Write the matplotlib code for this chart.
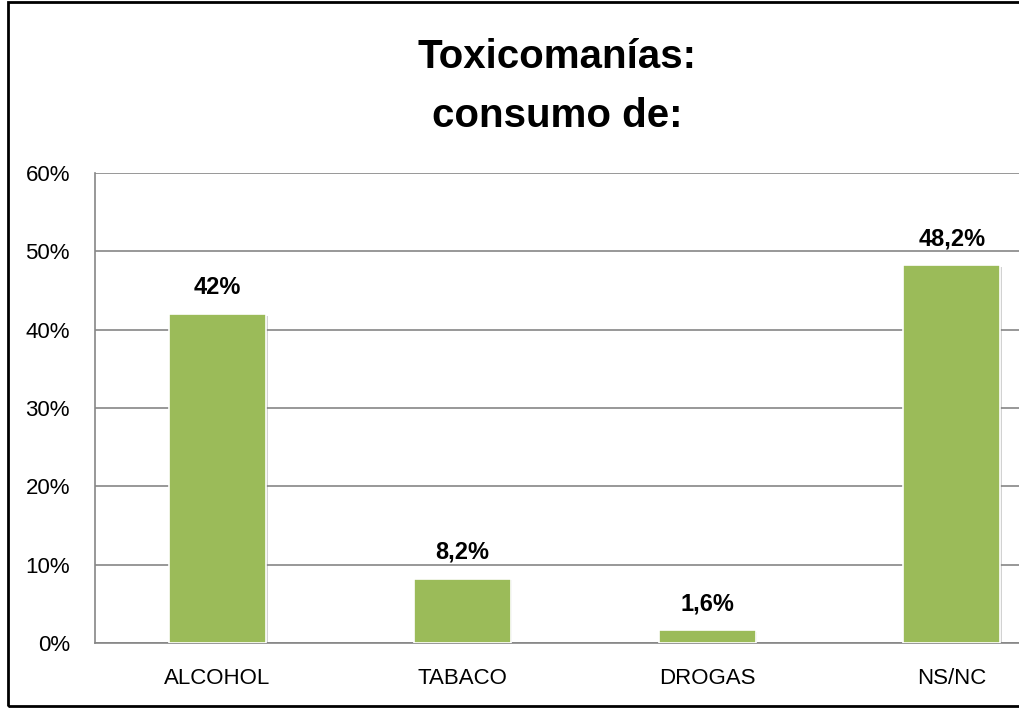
import matplotlib
matplotlib.use("Agg")
import matplotlib.pyplot as plt
import matplotlib.patheffects as pe
from matplotlib.patches import Rectangle
import numpy as np

categories = ["ALCOHOL", "TABACO", "DROGAS", "NS/NC"]
values = [42.0, 8.2, 1.6, 48.2]
labels = ["42%", "8,2%", "1,6%", "48,2%"]
yticks = [0, 10, 20, 30, 40, 50, 60]

plt.rcParams['font.family'] = ['Liberation Sans', 'DejaVu Sans']

W, H = 1020, 708
fig = plt.figure(figsize=(W / 100, H / 100), dpi=100)
ax = fig.add_axes([95 / W, (H - 643) / H, (W - 95) / W, (643 - 173) / H])

x = np.arange(len(categories))
bars = ax.bar(x, values, width=0.396, color="#9BBB59", edgecolor="white",
              linewidth=1.2, zorder=3)
for b in bars:
    b.set_path_effects([pe.SimplePatchShadow(offset=(1.2, -1.2), shadow_rgbFace="#808080",
                                             alpha=0.35), pe.Normal()])

for xi, v, lab in zip(x, values, labels):
    ax.annotate(lab, (xi, v), xytext=(0, 14.5), textcoords="offset points",
                ha="center", va="baseline", fontsize=17, fontweight="bold",
                color="black")

ax.set_ylim(0, 60)
ax.set_xlim(-0.5, 3.278)
ax.set_yticks(yticks)
ax.set_yticklabels([f"{t}%" for t in yticks], fontsize=16)
ax.set_xticks(x)
ax.set_xticklabels(categories, fontsize=16)
ax.tick_params(axis="both", length=0)
ax.tick_params(axis="y", pad=18)
ax.tick_params(axis="x", pad=18)
ax.yaxis.grid(True, color="#868686", linewidth=1.2, zorder=0)
ax.set_axisbelow(True)
for s in ["top", "right"]:
    ax.spines[s].set_visible(False)
for s in ["left", "bottom"]:
    ax.spines[s].set_color("#868686")
    ax.spines[s].set_linewidth(1.2)

fig.text(557 / W, 1 - 68 / H, "Toxicomanías:", ha="center", va="baseline",
         fontsize=29, fontweight="bold")
fig.text(557 / W, 1 - 127 / H, "consumo de:", ha="center", va="baseline",
         fontsize=29, fontweight="bold")

fig.patches.append(Rectangle((8 / W, 2 / H), 1.2, 704 / H, transform=fig.transFigure,
                             fill=False, edgecolor="black", linewidth=2))

fig.savefig("out.png", dpi=100)
